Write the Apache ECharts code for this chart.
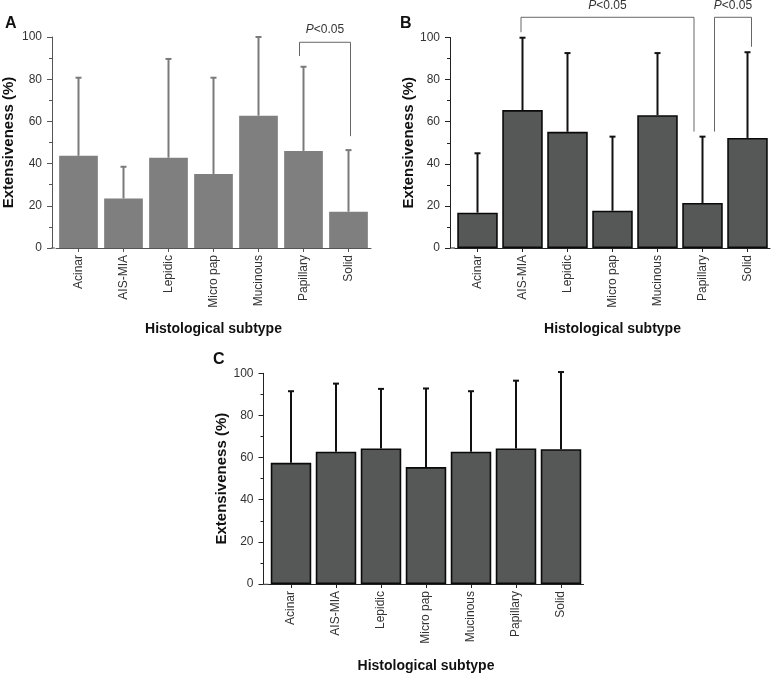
<!DOCTYPE html>
<html>
<head>
<meta charset="utf-8">
<script src="https://cdn.jsdelivr.net/npm/echarts@6/dist/echarts.min.js"></script>
<style>
  html, body { margin: 0; padding: 0; background: #fff; }
  #chart { width: 773px; height: 674px; }
</style>
</head>
<body>
<div id="chart"></div>
<script>
// ---------- data ----------
const categories = ['Acinar', 'AIS-MIA', 'Lepidic', 'Micro pap', 'Mucinous', 'Papillary', 'Solid'];
const yTicks = [0, 20, 40, 60, 80, 100];

// Panel A
const meanA = [43.7, 23.5, 42.8, 35.1, 62.7, 46.0, 17.2];
const upperA = [80.7, 38.5, 89.6, 80.7, 100.0, 85.9, 46.4];
// Panel B
const meanB = [16.8, 65.5, 55.2, 17.7, 63.1, 21.4, 52.3];
const upperB = [45.0, 99.9, 92.6, 52.9, 92.6, 52.9, 93.0];
// Panel C
const meanC = [57.5, 62.8, 64.3, 55.5, 62.8, 64.3, 64.0];
const upperC = [91.5, 95.1, 92.6, 92.8, 91.5, 96.5, 100.6];

// significance brackets: [fromIndex, toIndex, bracketTop, leftLegEnd, rightLegEnd]
const sigA = [[5, 6, 97.5, 91, 53]];
const sigB = [[1, 5, 109.6, 102.5, 55.3], [5, 6, 109.6, 55.3, 95.6]];
const sigLabel = '{i|P}<0.05';

const yAxisName = 'Extensiveness (%)';
const xAxisName = 'Histological subtype';
const panelLetters = ['A', 'B', 'C'];

// ---------- layout / style ----------
const FONT = 'Liberation Sans, Arial, sans-serif';
const panels = [
  { left: 55, top: 37, width: 316, height: 211, yOffset: 4, yNameGap: 36, xNameGap: 74,
    axisColor: '#555', barColor: '#7f7f7f', border: 0, borderColor: '#7f7f7f', gap: '14%',
    errColor: '#7a7a7a', errWidth: 2, letterPos: [5, 16], mean: meanA, upper: upperA, sig: sigA,
    sigOffsets: [[-4, 2]], sigTextDy: 13 },
  { left: 455, top: 37.5, width: 315, height: 210.5, yOffset: 5, yNameGap: 33, xNameGap: 74,
    axisColor: '#222', barColor: '#565857', border: 1.6, borderColor: '#0a0a0a', gap: '10%',
    errColor: '#111', errWidth: 2, letterPos: [400, 16], mean: meanB, upper: upperB, sig: sigB,
    sigOffsets: [[-1.5, -8.5], [12, 4]], sigTextDy: 12 },
  { left: 268.5, top: 373.3, width: 315, height: 211, yOffset: 5, yNameGap: 33, xNameGap: 75,
    axisColor: '#222', barColor: '#565857', border: 1.6, borderColor: '#0a0a0a', gap: '10%',
    errColor: '#111', errWidth: 2, letterPos: [213, 352], mean: meanC, upper: upperC, sig: [],
    sigOffsets: [], sigTextDy: 12 }
];

const grid = [], xAxis = [], yAxis = [], series = [], graphic = [];

panels.forEach((p, gi) => {
  grid.push({ left: p.left, top: p.top, width: p.width, height: p.height, containLabel: false });

  xAxis.push({
    type: 'category', gridIndex: gi, data: categories,
    name: xAxisName, nameLocation: 'middle', nameGap: p.xNameGap,
    nameTextStyle: { fontFamily: FONT, fontWeight: 'bold', fontSize: 14, color: '#111' },
    axisLine: { show: true, lineStyle: { color: p.axisColor, width: 1 } },
    axisTick: { show: true, alignWithLabel: true, length: 4, lineStyle: { color: p.axisColor } },
    axisLabel: { rotate: 90, fontFamily: FONT, fontSize: 12, color: '#333', margin: 7 },
    splitLine: { show: false }
  });

  yAxis.push({
    type: 'value', gridIndex: gi, min: 0, max: 100, interval: 20, offset: p.yOffset,
    name: yAxisName, nameLocation: 'middle', nameGap: p.yNameGap,
    nameTextStyle: { fontFamily: FONT, fontWeight: 'bold', fontSize: 15, color: '#111' },
    axisLine: { show: true, lineStyle: { color: p.axisColor, width: 1 } },
    axisTick: { show: true, length: 5, lineStyle: { color: p.axisColor } },
    minorTick: { show: true, splitNumber: 2, length: 3, lineStyle: { color: p.axisColor } },
    axisLabel: { fontFamily: FONT, fontSize: 12, color: '#333', margin: 10,
      formatter: v => (yTicks.indexOf(v) >= 0 ? String(v) : '') },
    splitLine: { show: false }
  });

  series.push({
    type: 'bar', xAxisIndex: gi, yAxisIndex: gi, data: p.mean,
    barCategoryGap: p.gap,
    itemStyle: { color: p.barColor, borderColor: p.borderColor, borderWidth: p.border },
    silent: true, z: 2
  });

  // error bars (upper only)
  series.push({
    type: 'custom', xAxisIndex: gi, yAxisIndex: gi,
    data: p.mean.map((m, i) => [i, m, p.upper[i]]),
    encode: { x: 0, y: [1, 2] },
    silent: true, z: 3,
    renderItem: (params, api) => {
      const i = api.value(0);
      const lo = api.coord([i, api.value(1)]);
      const hi = api.coord([i, api.value(2)]);
      const cap = 6;
      return { type: 'group', children: [
        { type: 'line', shape: { x1: lo[0], y1: lo[1], x2: hi[0], y2: hi[1] },
          style: { stroke: p.errColor, lineWidth: p.errWidth } },
        { type: 'line', shape: { x1: hi[0] - cap / 2, y1: hi[1], x2: hi[0] + cap / 2, y2: hi[1] },
          style: { stroke: p.errColor, lineWidth: p.errWidth } }
      ]};
    }
  });

  // significance brackets
  if (p.sig.length) {
    series.push({
      type: 'custom', xAxisIndex: gi, yAxisIndex: gi,
      data: p.sig.map((s, k) => [s[0], s[1], s[2], s[3], s[4], k]),
      encode: { x: [0, 1], y: [2] },
      silent: true, z: 4, clip: false,
      renderItem: (params, api) => {
        const k = api.value(5);
        const off = p.sigOffsets[k];
        const a = api.coord([api.value(0), api.value(2)]);
        const b = api.coord([api.value(1), api.value(2)]);
        const aEnd = api.coord([api.value(0), api.value(3)]);
        const bEnd = api.coord([api.value(1), api.value(4)]);
        const xl = a[0] + off[0], xr = b[0] + off[1];
        return { type: 'group', children: [
          { type: 'polyline',
            shape: { points: [[xl, aEnd[1]], [xl, a[1]], [xr, a[1]], [xr, bEnd[1]]] },
            style: { stroke: '#666', lineWidth: 1, fill: null } },
          { type: 'text',
            style: { x: (xl + xr) / 2, y: a[1] - p.sigTextDy, text: sigLabel,
              rich: { i: { fontStyle: 'italic', fontFamily: FONT, fontSize: 12, fill: '#333' } },
              fontFamily: FONT, fontSize: 12, fill: '#333', align: 'center', verticalAlign: 'middle' } }
        ]};
      }
    });
  }

  // panel letter
  graphic.push({ type: 'text', left: p.letterPos[0], top: p.letterPos[1],
    style: { text: panelLetters[gi], fontFamily: FONT, fontWeight: 'bold', fontSize: 16, fill: '#111' } });
  // x-axis line continued to the (offset) y-axis
  graphic.push({ type: 'line', silent: true,
    shape: { x1: p.left - p.yOffset, y1: p.top + p.height, x2: p.left, y2: p.top + p.height },
    style: { stroke: p.axisColor, lineWidth: 1 } });
});

const chart = echarts.init(document.getElementById('chart'), null, { renderer: 'canvas' });
chart.setOption({
  animation: false,
  backgroundColor: '#fff',
  textStyle: { fontFamily: FONT },
  grid, xAxis, yAxis, series, graphic
});
</script>
</body>
</html>
